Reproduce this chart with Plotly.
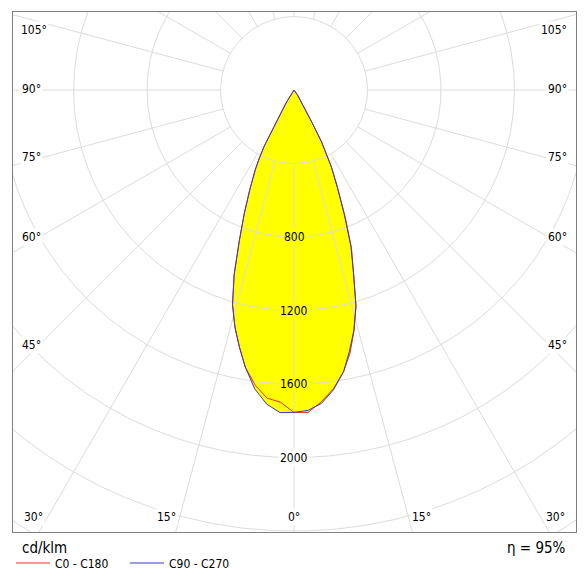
import numpy as np
import plotly.graph_objects as go

# ── DATA ──────────────────────────────
# gamma angle (deg, 0 = straight down) and intensity in cd/klm per C-plane half
GAMMA = [0, 2.5, 5, 7.5, 10, 12, 14, 16, 18, 20, 22, 24, 26, 27, 28, 29, 30,
         32, 35, 40, 45, 50, 60, 70, 80, 90]
C0 = [1754, 1756, 1703, 1640, 1555, 1465, 1350, 1225, 1055, 915, 742, 585, 462,
      372, 322, 200, 105, 65, 35, 0, 0, 0, 0, 0, 0, 0]
C180 = [1754, 1700, 1683, 1620, 1530, 1430, 1330, 1215, 1055, 870, 722, 591, 480,
        417, 346, 230, 130, 75, 40, 0, 0, 0, 0, 0, 0, 0]
C90 = [1754, 1745, 1712, 1645, 1555, 1452, 1347, 1222, 1050, 905, 730, 580, 460,
       370, 320, 200, 105, 65, 35, 0, 0, 0, 0, 0, 0, 0]
C270 = [1754, 1757, 1715, 1640, 1530, 1430, 1330, 1215, 1055, 870, 722, 591, 480,
        417, 346, 230, 130, 75, 40, 0, 0, 0, 0, 0, 0, 0]

RINGS = [400, 800, 1200, 1600, 2000, 2400, 2800]
RING_LABELS = [800, 1200, 1600, 2000]
SPOKES = list(range(0, 360, 15))
ETA = 95

# ── STYLE ─────────────────────────────
OFF = 8                      # page body margin
W, H = 587 - OFF, 575 - OFF
L, T = 13 - OFF, 12 - OFF
R, B = 587 - 576, 575 - 532
FONT = "DejaVu Sans Condensed, Noto Sans, sans-serif"
GRID = "#dcdcdc"
YELLOW = "#ffff00"
RED = "#e8312a"
BLUE = "#3a3ac8"

# angle label spots (pixel centre in the page)
ANGLE_SPOTS = [
    ("105°", 34, 30), ("90°", 31, 89), ("75°", 31, 157), ("60°", 31, 237),
    ("45°", 31, 345), ("30°", 33, 517), ("15°", 167, 517), ("0°", 294, 517),
    ("15°", 421, 517), ("30°", 555, 517), ("45°", 557, 345), ("60°", 557, 237),
    ("75°", 557, 157), ("90°", 557, 89), ("105°", 554, 30),
]


def px_to_paper(px, py):
    return ((px - OFF - L) / (W - L - R),
            1 - (py - OFF - T) / (H - T - B))


def outline(left, right):
    g = np.radians(GAMMA)
    lv, rv = np.array(left, float), np.array(right, float)
    x = np.concatenate([-(lv * np.sin(g))[::-1], (rv * np.sin(g))[1:]])
    y = np.concatenate([-(lv * np.cos(g))[::-1], -(rv * np.cos(g))[1:]])
    return x, y


red_x, red_y = outline(C180, C0)
blue_x, blue_y = outline(C270, C90)

fig = go.Figure()

# yellow fill under everything
for x, y in [(red_x, red_y), (blue_x, blue_y)]:
    fig.add_trace(go.Scatter(x=x, y=y, fill="toself", fillcolor=YELLOW,
                             mode="lines", line=dict(width=0), showlegend=False,
                             hoverinfo="skip"))

# grid rings
t = np.linspace(0, 2 * np.pi, 721)
gx, gy = [], []
for r in RINGS:
    gx += list(r * np.sin(t)) + [None]
    gy += list(r * np.cos(t)) + [None]
# spokes from the first ring outwards
for a in SPOKES:
    ar = np.radians(a)
    gx += [RINGS[0] * np.sin(ar), 3200 * np.sin(ar), None]
    gy += [-RINGS[0] * np.cos(ar), -3200 * np.cos(ar), None]
fig.add_trace(go.Scatter(x=gx, y=gy, mode="lines", line=dict(color=GRID, width=1),
                         showlegend=False, hoverinfo="skip"))

fig.add_trace(go.Scatter(x=red_x, y=red_y, mode="lines", name="C0 - C180",
                         line=dict(color=RED, width=1)))
fig.add_trace(go.Scatter(x=blue_x, y=blue_y, mode="lines", name="C90 - C270",
                         line=dict(color=BLUE, width=1)))

ann = []
peak = max(max(C0), max(C90))
for r in RING_LABELS:
    ann.append(dict(x=0, y=-r, xref="x", yref="y", text=str(r), showarrow=False,
                    xanchor="center", yanchor="middle",
                    font=dict(family=FONT, size=12, color="#000"),
                    bgcolor=YELLOW if r < peak else "white", borderpad=1))

for txt, px, py in ANGLE_SPOTS:
    ax, ay = px_to_paper(px, py)
    ann.append(dict(x=ax, y=ay, xref="paper", yref="paper", text=txt,
                    xanchor="center", yanchor="middle",
                    showarrow=False, bgcolor="white", borderpad=1,
                    font=dict(family=FONT, size=12, color="#000")))

cx, cy = px_to_paper(20, 548)
ann.append(dict(x=cx, y=cy, xref="paper", yref="paper", text="cd/klm",
                xanchor="left", yanchor="middle", showarrow=False,
                font=dict(family=FONT, size=15, color="#000")))
ex, ey = px_to_paper(568, 548)
ann.append(dict(x=ex, y=ey, xref="paper", yref="paper", text=f"η = {ETA}%",
                xanchor="right", yanchor="middle", showarrow=False,
                font=dict(family=FONT, size=15, color="#000")))

lx, ly = px_to_paper(11, 563)
fig.update_layout(
    width=W, height=H,
    margin=dict(l=L, r=R, t=T, b=B, autoexpand=False),
    paper_bgcolor="white", plot_bgcolor="white",
    annotations=ann,
    showlegend=True,
    legend=dict(orientation="h", x=lx, y=ly, xanchor="left", yanchor="middle",
                font=dict(family=FONT, size=12, color="#000"),
                itemwidth=34, entrywidth=65, entrywidthmode="pixels",
                bgcolor="rgba(0,0,0,0)", borderwidth=0, tracegroupgap=0),
    xaxis=dict(range=[-1530, 1535], showgrid=False, zeroline=False,
               showticklabels=False, ticks="", showline=True, mirror=True,
               linecolor="#808080", linewidth=1, fixedrange=True),
    yaxis=dict(range=[-2405, 425], showgrid=False, zeroline=False,
               showticklabels=False, ticks="", showline=True, mirror=True,
               linecolor="#808080", linewidth=1, fixedrange=True),
)

fig.write_html("out.html")
